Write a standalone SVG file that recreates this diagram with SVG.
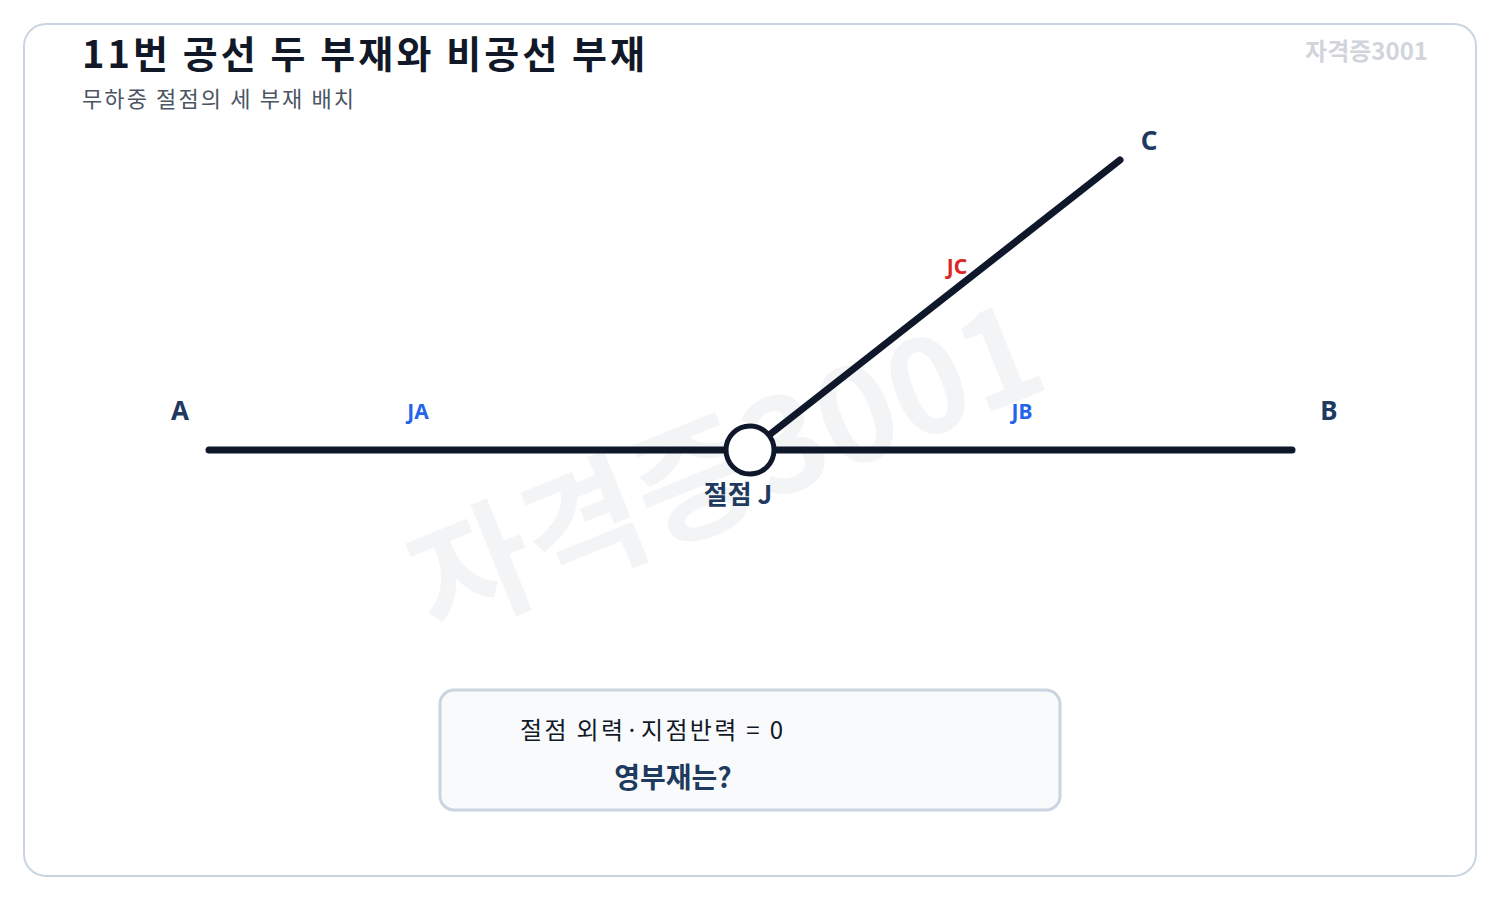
<svg xmlns="http://www.w3.org/2000/svg" width="1500" height="900" viewBox="0 0 1500 900">
<style>
.kr{font-family:"Noto Sans CJK KR","Noto Sans",sans-serif}
.pt{font-family:"Noto Sans","Noto Sans CJK KR",sans-serif;font-weight:700;fill:#1e3a5f;font-size:26px;text-anchor:middle}
.mem{font-family:"Noto Sans","Noto Sans CJK KR",sans-serif;font-weight:700;font-size:21px;text-anchor:middle}
.bar{stroke:#0f172a;stroke-width:7;stroke-linecap:round;fill:none}
</style>
<rect x="24" y="24" width="1452" height="852" rx="22" fill="#fff" stroke="#cbd5e1" stroke-width="2"/>
<text class="kr" x="727" y="515" font-size="130" font-weight="700" fill="#e5e7eb" fill-opacity="0.45" text-anchor="middle" transform="rotate(-22 727 470)">자격증3001</text>
<g id="title">
<text class="kr" x="82" y="68" font-size="38" font-weight="700" fill="#111827" textLength="563" lengthAdjust="spacing">11번 공선 두 부재와 비공선 부재</text>
<text class="kr" x="82" y="107" font-size="22" fill="#4b5563" textLength="272" lengthAdjust="spacing">무하중 절점의 세 부재 배치</text>
<text class="kr" x="1428" y="60" font-size="24" font-weight="700" fill="#d1d5db" text-anchor="end">자격증3001</text>
</g>
<g id="connectors">
<line class="bar" x1="209" y1="450" x2="1292" y2="450"/>
<line class="bar" x1="750" y1="450" x2="1120" y2="160"/>
</g>
<g id="node-J">
<circle cx="750" cy="450" r="24" fill="#fff" stroke="#0f172a" stroke-width="5"/>
<text class="kr" x="738" y="504" font-size="26" font-weight="700" fill="#1e3a5f" text-anchor="middle">절점 J</text>
</g>
<g id="node-A"><text class="pt" x="180" y="420">A</text></g>
<g id="node-B"><text class="pt" x="1329" y="420">B</text></g>
<g id="node-C"><text class="pt" x="1149" y="150">C</text></g>
<g id="labels">
<text class="mem" x="418" y="419" fill="#2563eb">JA</text>
<text class="mem" x="1022" y="419" fill="#2563eb">JB</text>
<text class="mem" x="957" y="274" fill="#dc2626">JC</text>
</g>
<g id="note">
<rect x="440" y="690" width="620" height="120" rx="14" fill="#f8fafc" stroke="#cbd5e1" stroke-width="3"/>
<text class="kr" x="520" y="739" font-size="24" fill="#111827" textLength="263" lengthAdjust="spacing">절점 외력·지점반력 = 0</text>
<text class="kr" x="673" y="788" font-size="28" font-weight="700" fill="#1e3a5f" text-anchor="middle">영부재는?</text>
</g>
</svg>
